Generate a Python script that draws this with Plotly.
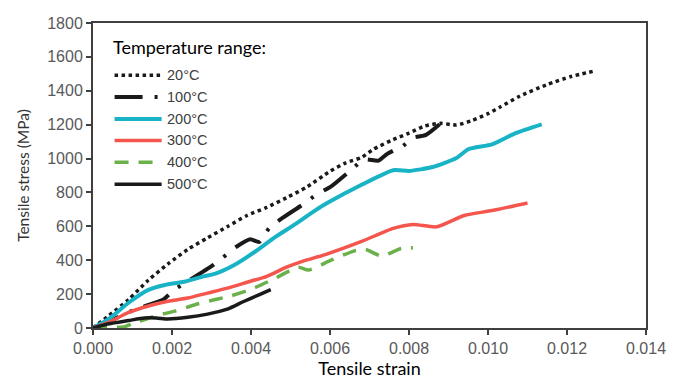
import plotly.graph_objects as go

# ---------------- data ----------------
strain_20 = [0, 0.0004, 0.0009, 0.0014, 0.0019, 0.0024, 0.0029, 0.0034, 0.0039, 0.0044, 0.0049,
             0.0054, 0.0060, 0.0064, 0.0068, 0.0071, 0.0076, 0.0080, 0.0084, 0.0088, 0.0092,
             0.0096, 0.0100, 0.0103, 0.0108, 0.0115, 0.0121, 0.0127]
stress_20 = [0, 73, 168, 282, 378, 464, 532, 598, 664, 712, 769,
             830, 925, 975, 1007, 1055, 1112, 1150, 1192, 1208, 1198,
             1225, 1265, 1303, 1368, 1437, 1484, 1517]

strain_100 = [0, 0.0005, 0.00107, 0.00178, 0.00205, 0.00231, 0.00302, 0.00329, 0.00362, 0.00398,
              0.00421, 0.00446, 0.00477, 0.00537, 0.00566, 0.00603, 0.00657, 0.00686, 0.00723,
              0.00744, 0.0076, 0.00781, 0.0081, 0.00843, 0.00899]
stress_100 = [0, 50, 110, 168, 225, 263, 368, 416, 478, 524,
              508, 590, 645, 738, 788, 836, 940, 995, 988,
              1026, 1046, 1068, 1122, 1140, 1246]

strain_200 = [0, 0.0004, 0.0009, 0.0014, 0.00182, 0.00231, 0.0028, 0.0031, 0.0036, 0.0041, 0.0046,
              0.0051, 0.0056, 0.00595, 0.0068, 0.0076, 0.0080, 0.0086, 0.0092, 0.0095, 0.0101,
              0.0107, 0.01136]
stress_200 = [0, 53, 149, 225, 254, 273, 305, 321, 375, 450, 535,
              610, 690, 740, 845, 931, 927, 950, 1003, 1055, 1084,
              1150, 1202]

strain_300 = [0, 0.0004, 0.0009, 0.0014, 0.0019, 0.0024, 0.0029, 0.0034, 0.0039, 0.0044, 0.0049,
              0.0053, 0.0059, 0.0068, 0.0076, 0.0081, 0.0087, 0.0094, 0.0101, 0.0110]
stress_300 = [0, 34, 92, 130, 158, 177, 206, 235, 270, 305, 359,
              393, 435, 511, 588, 611, 597, 664, 693, 738]

strain_400 = [0, 0.0004, 0.0008, 0.0010, 0.0016, 0.0021, 0.0026, 0.0031, 0.0035, 0.0040, 0.0046,
              0.0052, 0.00545, 0.0060, 0.0066, 0.0069, 0.0073, 0.0078, 0.0081]
stress_400 = [0, 2, 8, 25, 73, 101, 139, 168, 190, 228, 292,
              359, 342, 397, 454, 464, 425, 469, 473]

strain_500 = [0, 0.0004, 0.0009, 0.0013, 0.0016, 0.0019, 0.0024, 0.0029, 0.0034, 0.0038, 0.0042, 0.0045]
stress_500 = [0, 25, 44, 59, 59, 53, 63, 82, 111, 155, 196, 227]

series_names = ["20°C", "100°C", "200°C", "300°C", "400°C", "500°C"]
x_ticks = [0.000, 0.002, 0.004, 0.006, 0.008, 0.010, 0.012, 0.014]
y_ticks = [0, 200, 400, 600, 800, 1000, 1200, 1400, 1600, 1800]

# ---------------- styles ----------------
styles = [
    dict(color="#1a1a1a", width=3.5, dash="3.5px,3.5px"),
    dict(color="#1a1a1a", width=4, dash="28px,12px,3px,12px"),
    dict(color="#19B3C6", width=4, dash="solid"),
    dict(color="#F4564E", width=3.5, dash="solid"),
    dict(color="#6BB14B", width=3.5, dash="14px,10px"),
    dict(color="#1a1a1a", width=3.5, dash="solid"),
]

xs = [strain_20, strain_100, strain_200, strain_300, strain_400, strain_500]
ys = [stress_20, stress_100, stress_200, stress_300, stress_400, stress_500]

fig = go.Figure()
for name, x, y, st in zip(series_names, xs, ys, styles):
    fig.add_trace(go.Scatter(x=x, y=y, mode="lines", name=name, showlegend=False,
                             line=dict(color=st["color"], width=st["width"], dash=st["dash"],
                                       shape="spline", smoothing=0.6)))

W, H = 678, 387
ML, MR, MT, MB = 93, 21, 23, 51
PW, PH = W - ML - MR, H - MT - MB


def px_x(p):
    return (p - ML) / PW


def px_y(p):
    return (H - MB - p) / PH


# ---------------- legend (drawn as shapes + text) ----------------
shapes = []
annotations = []
annotations.append(dict(x=px_x(111), y=px_y(47.5), xref="paper", yref="paper",
                        text="Temperature range:", showarrow=False, xanchor="left", yanchor="middle",
                        font=dict(family="Lato", size=18, color="#000000")))
leg_rows = [76.5, 99, 121.5, 143.5, 166, 188.5]
for name, st, row in zip(series_names, styles, leg_rows):
    shapes.append(dict(type="line", xref="paper", yref="paper",
                       x0=px_x(115), x1=px_x(163), y0=px_y(row), y1=px_y(row),
                       line=dict(color=st["color"], width=st["width"], dash=st["dash"])))
    annotations.append(dict(x=px_x(166), y=px_y(row), xref="paper", yref="paper",
                            text=name, showarrow=False, xanchor="left", yanchor="middle",
                            font=dict(family="Liberation Sans, Arial", size=14.5, color="#404040")))

axis_common = dict(showline=True, mirror=True, linecolor="#404040", linewidth=2,
                   ticks="outside", ticklen=5, tickwidth=1.5, tickcolor="#404040",
                   showgrid=False, zeroline=False,
                   tickfont=dict(family="Liberation Sans, Arial", size=16, color="#595959"))

fig.update_layout(
    width=W, height=H, autosize=False,
    margin=dict(l=ML, r=MR, t=MT, b=MB, pad=0),
    paper_bgcolor="white", plot_bgcolor="white",
    xaxis=dict(range=[0, 0.014], tickvals=x_ticks, tickformat=".3f",
               title=dict(text="Tensile strain", standoff=5,
                          font=dict(family="Lato", size=18, color="#000000")),
               **axis_common),
    yaxis=dict(range=[0, 1800], tickvals=y_ticks,
               title=dict(text="Tensile stress (MPa)", standoff=14,
                          font=dict(family="Lato", size=15.5, color="#333333")),
               **axis_common),
    shapes=shapes,
    annotations=annotations,
)

fig.write_html("out.html")
